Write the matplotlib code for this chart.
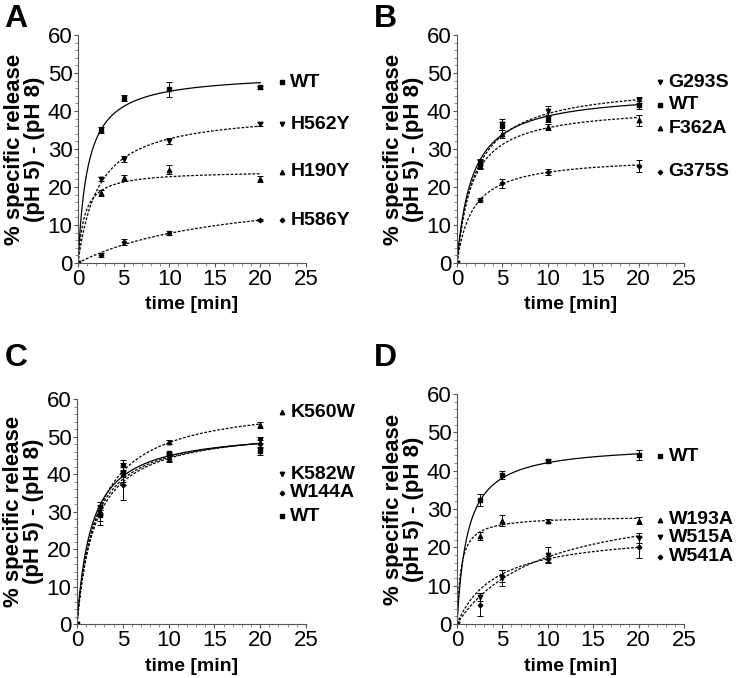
import numpy as np
import matplotlib
matplotlib.use("Agg")
import matplotlib.pyplot as plt
from matplotlib.ticker import MultipleLocator

plt.rcParams['font.family'] = ['Liberation Sans', 'DejaVu Sans']

time = [0, 2.5, 5, 10, 20]

# Panel A
A_names = ["WT", "H562Y", "H190Y", "H586Y"]
A_markers = ["s", "v", "^", "D"]
A_vals = [[0, 35, 43.5, 45.7, 46.2],
          [0, 22, 27.3, 32.2, 36.5],
          [0, 18.3, 22.3, 24.5, 22],
          [0, 2, 5.5, 7.8, 11.3]]
A_err = [[0, 0.8, 0.8, 2, 0.5],
         [0, 0.5, 0.8, 0.8, 0.5],
         [0, 0.8, 0.8, 1.2, 0.8],
         [0, 0.5, 0.7, 0.5, 0.3]]
A_bmax = [50.0, 40.1, 24.3, 20.5]
A_k = [1.07, 2.27, 0.70, 16.3]
A_labely = [47.6, 36.5, 24.0, 11.3]

# Panel B
B_names = ["G293S", "WT", "F362A", "G375S"]
B_markers = ["v", "s", "^", "D"]
B_vals = [[0, 26.5, 36.5, 40, 42.8],
          [0, 26, 36, 38, 41.5],
          [0, 25.5, 34, 35.8, 37.5],
          [0, 16.5, 21, 24, 25.5]]
B_err = [[0, 0.8, 1.5, 1.3, 0.8],
         [0, 1, 1, 1, 1],
         [0, 0.8, 1, 0.8, 1.5],
         [0, 0.5, 1.2, 0.8, 1.5]]
B_bmax = [47.4, 45.2, 41.45, 28.06]
B_k = [2.06, 1.69, 1.65, 1.75]
B_labely = [47.6, 41.6, 35.5, 24.0]

# Panel C
C_names = ["K560W", "K582W", "W144A", "WT"]
C_markers = ["^", "v", "D", "s"]
C_vals = [[0, 30, 40, 48.5, 53],
          [0, 31, 40, 44.5, 49],
          [0, 29.5, 37, 44, 48],
          [0, 29, 42.3, 45.5, 46.2]]
C_err = [[0, 1, 3, 0.5, 0.8],
         [0, 0.7, 2, 1, 0.8],
         [0, 3, 4, 0.8, 1],
         [0, 1.5, 1.5, 0.5, 1]]
C_bmax = [59.5, 52.5, 53.0, 52.0]
C_k = [2.31, 1.8, 2.0, 1.6]
C_labely = [56.5, 40.0, 35.0, 28.8]

# Panel D
D_names = ["WT", "W193A", "W515A", "W541A"]
D_markers = ["s", "^", "v", "D"]
D_vals = [[0, 32.3, 38.8, 42.6, 44.1],
          [0, 23, 27, 27, 27],
          [0, 7, 12, 18, 22.5],
          [0, 5, 12.5, 17, 20]]
D_err = [[0, 1.5, 1, 0.5, 1.3],
         [0, 1, 1.5, 0.5, 1],
         [0, 1, 2, 2, 1.3],
         [0, 3, 1.5, 0.8, 2.8]]
D_bmax = [47.0, 28.2, 33.5, 24.28]
D_k = [1.17, 0.44, 9.15, 4.28]
D_labely = [43.8, 27.2, 22.6, 17.6]

panels = [
    ("A", [0.1057, 0.6121, 0.3089, 0.3363], (0.006, 0.994), A_names, A_markers, A_vals, A_err, A_bmax, A_k, A_labely),
    ("B", [0.6192, 0.6121, 0.3076, 0.3363], (0.506, 0.994), B_names, B_markers, B_vals, B_err, B_bmax, B_k, B_labely),
    ("C", [0.1043, 0.0796, 0.3103, 0.3319], (0.006, 0.494), C_names, C_markers, C_vals, C_err, C_bmax, C_k, C_labely),
    ("D", [0.6192, 0.0796, 0.3076, 0.3393], (0.506, 0.494), D_names, D_markers, D_vals, D_err, D_bmax, D_k, D_labely),
]

fig = plt.figure(figsize=(7.38, 6.78), dpi=100)
tfit = np.linspace(0, 20, 300)
msize = {"s": 3.2, "v": 3.2, "^": 3.2, "D": 2.3}

for letter, rect, lpos, names, markers, vals, errs, bmax, kk, labely in panels:
    ax = fig.add_axes(rect)
    for name, m, v, e, b, k, ly in zip(names, markers, vals, errs, bmax, kk, labely):
        ls = "-" if name == "WT" else (0, (2.2, 1.3))
        ax.plot(tfit, b * tfit / (k + tfit), color="black", lw=0.9, ls=ls)
        ax.errorbar(time, v, yerr=e, fmt=m, ms=msize[m], color="black",
                    ecolor="black", elinewidth=0.7, capsize=2.0, capthick=0.7)
        ax.plot([22.4], [ly], marker=m, ms=msize[m], color="black", clip_on=False)
        ax.text(23.3, ly, name, fontsize=14, fontweight="bold", va="center", ha="left")
    ax.set_xlim(0, 25)
    ax.set_ylim(0, 60)
    ax.xaxis.set_major_locator(MultipleLocator(5))
    ax.xaxis.set_minor_locator(MultipleLocator(1))
    ax.yaxis.set_major_locator(MultipleLocator(10))
    ax.yaxis.set_minor_locator(MultipleLocator(2))
    for s in ["top", "right"]:
        ax.spines[s].set_visible(False)
    for s in ["left", "bottom"]:
        ax.spines[s].set_color("#555555")
        ax.spines[s].set_linewidth(0.8)
    ax.tick_params(which="major", length=3, width=0.8, color="#555555", labelsize=16, pad=1)
    ax.tick_params(which="minor", length=2, width=0.6, color="#777777")
    ax.set_xlabel("time [min]", fontsize=14, fontweight="bold", labelpad=5)
    ax.set_ylabel("% specific release\n(pH 5) - (pH 8)", fontsize=16, fontweight="bold",
                  labelpad=2, linespacing=0.95)
    fig.text(lpos[0], lpos[1], letter, fontsize=23, fontweight="bold",
             ha="left", va="top")

fig.savefig("out.png", dpi=100)
